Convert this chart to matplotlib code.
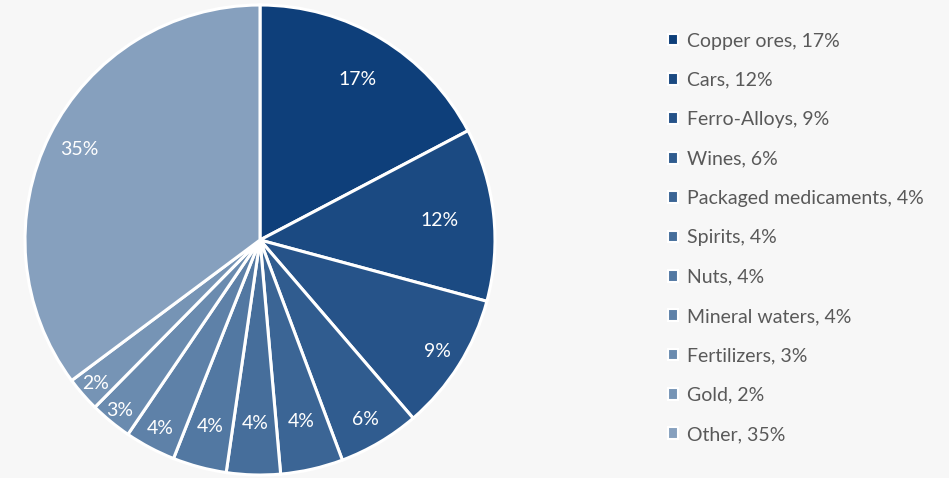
import matplotlib.pyplot as plt
from matplotlib.patches import Patch
import numpy as np

# datos
categorias = ["Copper ores", "Cars", "Ferro-Alloys", "Wines", "Packaged medicaments",
              "Spirits", "Nuts", "Mineral waters", "Fertilizers", "Gold", "Other"]
valores = [17.3, 11.9, 9.5, 5.6, 4.3, 3.7, 3.7, 3.5, 2.9, 2.4, 35.2]
etiquetas = ["17%", "12%", "9%", "6%", "4%", "4%", "4%", "4%", "3%", "2%", "35%"]
colores = ["#0e3f7a", "#1b4a82", "#265389", "#305c8f", "#3b6595", "#466e9b",
           "#5278a2", "#5e81a8", "#6a8baf", "#7694b5", "#86a0be"]
# distancia de cada etiqueta al centro (estilo, como en Excel)
dist_etiquetas = [0.80, 0.77, 0.89, 0.885, 0.79, 0.78, 0.82, 0.91, 0.94, 0.93, 0.86]

fondo = "#f7f7f7"
plt.rcParams['font.family'] = ['Lato', 'DejaVu Sans']

fig = plt.figure(figsize=(9.49, 4.78), dpi=100)
fig.patch.set_facecolor(fondo)

ax = fig.add_axes([25 / 949, 3 / 478, 470 / 949, 470 / 478])
ax.set_facecolor(fondo)

wedges, _ = ax.pie(valores, colors=colores, startangle=90, counterclock=False,
                   wedgeprops={'edgecolor': 'white', 'linewidth': 2.2})
for w, e, d in zip(wedges, etiquetas, dist_etiquetas):
    ang = np.deg2rad((w.theta1 + w.theta2) / 2)
    ax.text(d * np.cos(ang), d * np.sin(ang), e, color='white', fontsize=14,
            ha='center', va='center')
ax.set_xlim(-1, 1)
ax.set_ylim(-1, 1)
ax.set_aspect('equal')
ax.axis('off')

handles = [Patch(facecolor=c, edgecolor='white', linewidth=1.5) for c in colores]
nombres = [f"{n}, {e}" for n, e in zip(categorias, etiquetas)]
leg = fig.legend(handles, nombres, loc='upper left', bbox_to_anchor=(650 / 949, 1 - 15 / 478),
                 frameon=False, fontsize=14, labelspacing=1.15, handlelength=0.55,
                 handleheight=0.55, handletextpad=0.45)
for t in leg.get_texts():
    t.set_color('#595959')

fig.savefig("out.png", dpi=100, facecolor=fondo)
